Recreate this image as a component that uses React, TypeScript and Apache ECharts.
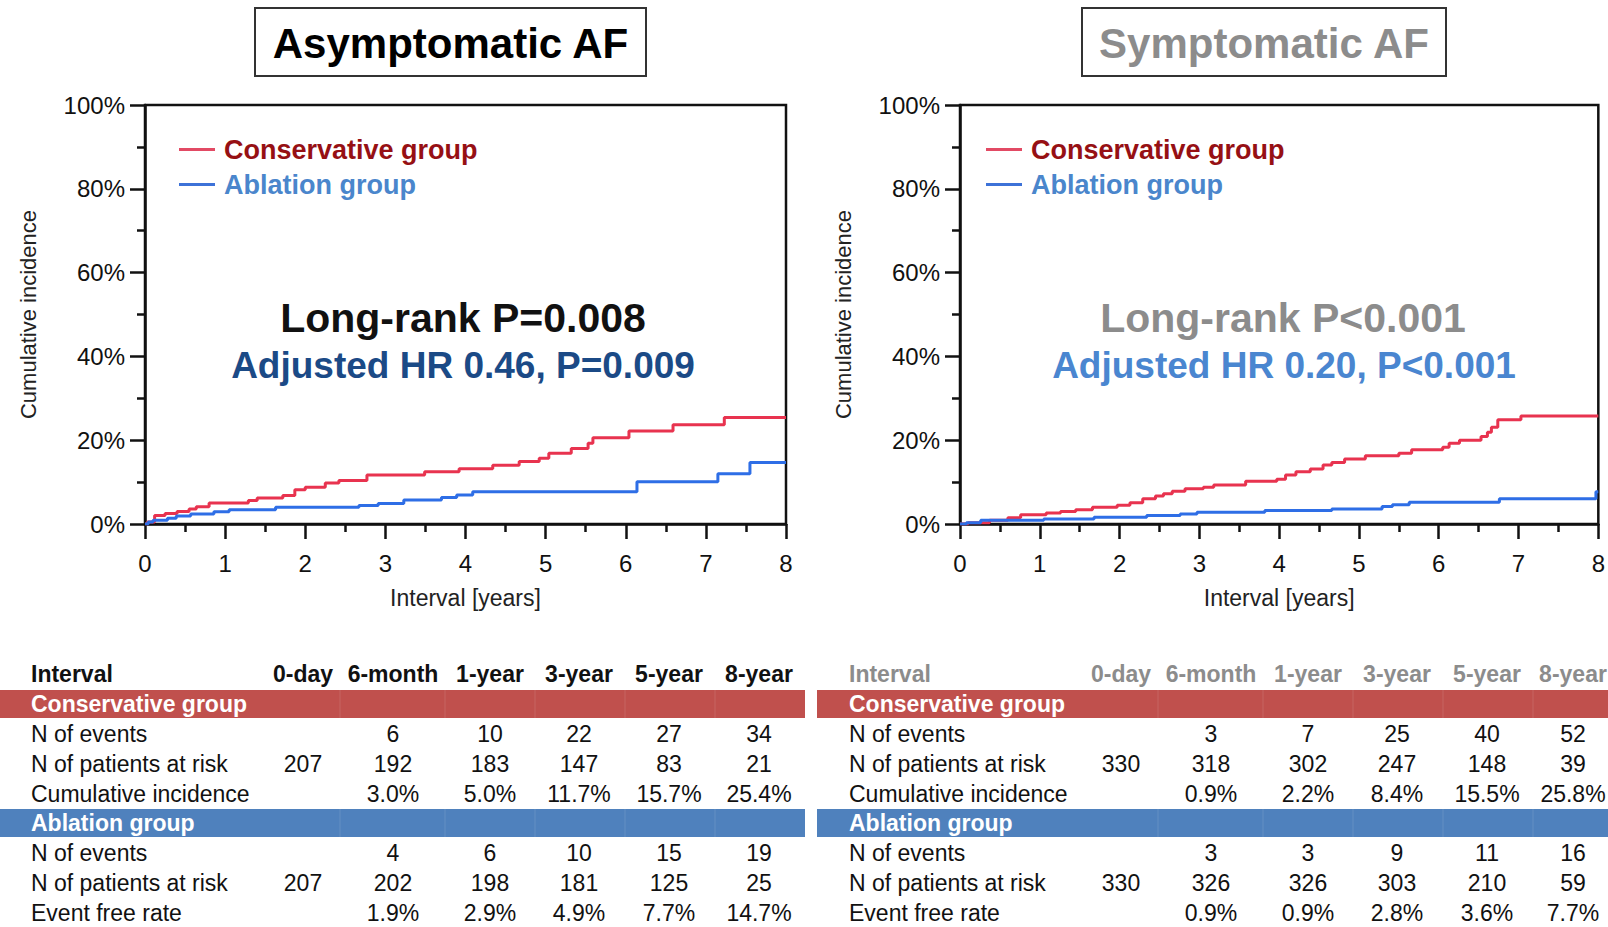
import React, { useEffect, useRef } from "react";
import * as echarts from "echarts";

const FONT = "'Liberation Sans', Arial, Helvetica, sans-serif";

// Kaplan-Meier style cumulative incidence (years, %)
const asymConsT = [0, 0.03, 0.12, 0.25, 0.4, 0.55, 0.64, 0.8, 1.29, 1.4, 1.72, 1.87, 2.0, 2.25, 2.42, 2.77, 3.49, 3.92, 4.34, 4.67, 4.92, 5.04, 5.32, 5.53, 5.59, 6.04, 6.59, 7.23, 8.0];
const asymConsV = [0, 0.5, 2.0, 2.5, 3.0, 3.6, 4.1, 5.0, 5.6, 6.2, 6.8, 8.2, 8.8, 9.8, 10.4, 11.7, 12.5, 13.2, 14.0, 14.9, 15.7, 16.9, 18.0, 19.3, 20.6, 22.2, 23.7, 25.4, 25.4];
const asymAblT = [0, 0.04, 0.1, 0.28, 0.39, 0.57, 0.86, 1.05, 1.63, 2.67, 2.91, 3.23, 3.7, 3.89, 4.09, 6.14, 7.15, 7.55, 8.0];
const asymAblV = [0, 0.5, 0.9, 1.4, 1.9, 2.4, 2.9, 3.4, 4.0, 4.4, 4.9, 5.7, 6.3, 6.9, 7.7, 10.1, 12.0, 14.7, 14.7];
const symConsT = [0, 0.1, 0.37, 0.6, 0.76, 1.08, 1.26, 1.45, 1.66, 1.97, 2.13, 2.29, 2.45, 2.55, 2.66, 2.82, 3.05, 3.18, 3.58, 3.97, 4.08, 4.21, 4.39, 4.55, 4.66, 4.82, 5.08, 5.5, 5.66, 6.05, 6.13, 6.26, 6.53, 6.61, 6.66, 6.74, 7.03, 8.0];
const symConsV = [0, 0.3, 0.9, 1.5, 2.2, 2.6, 3.0, 3.4, 4.0, 4.5, 5.1, 6.0, 6.7, 7.2, 7.8, 8.4, 8.8, 9.3, 10.2, 10.7, 11.7, 12.5, 13.1, 14.1, 14.7, 15.5, 16.3, 16.9, 17.7, 18.3, 19.3, 20.0, 20.9, 21.9, 23.1, 24.9, 25.8, 25.8];
const symAblT = [0, 0.08, 0.26, 1.05, 1.68, 2.34, 2.76, 2.97, 3.82, 4.66, 5.29, 5.42, 5.63, 6.76, 7.97, 8.0];
const symAblV = [0, 0.3, 0.9, 1.2, 1.6, 2.0, 2.4, 2.8, 3.2, 3.6, 4.2, 4.6, 5.2, 6.0, 7.7, 7.7];

// Risk tables
const tableCols = ["0-day", "6-month", "1-year", "3-year", "5-year", "8-year"];
const asymConsEvents = [null, 6, 10, 22, 27, 34];
const asymConsAtRisk = [207, 192, 183, 147, 83, 21];
const asymConsInc = [null, 3.0, 5.0, 11.7, 15.7, 25.4];
const asymAblEvents = [null, 4, 6, 10, 15, 19];
const asymAblAtRisk = [207, 202, 198, 181, 125, 25];
const asymAblRate = [null, 1.9, 2.9, 4.9, 7.7, 14.7];
const symConsEvents = [null, 3, 7, 25, 40, 52];
const symConsAtRisk = [330, 318, 302, 247, 148, 39];
const symConsInc = [null, 0.9, 2.2, 8.4, 15.5, 25.8];
const symAblEvents = [null, 3, 3, 9, 11, 16];
const symAblAtRisk = [330, 326, 326, 303, 210, 59];
const symAblRate = [null, 0.9, 0.9, 2.8, 3.6, 7.7];

const RED = "#e8334f";
const BLUE = "#2e6ee6";

const zip = (t: number[], v: number[]) => t.map((x, i) => [x, v[i]]);

function xAxis(gridIndex: number) {
  return {
    type: "value",
    gridIndex,
    min: 0,
    max: 8,
    interval: 1,
    name: "Interval [years]",
    nameLocation: "middle",
    nameGap: 62,
    nameTextStyle: { fontSize: 23, color: "#222", fontFamily: FONT },
    axisLine: { show: true, onZero: false, lineStyle: { color: "#111", width: 2.5 } },
    axisTick: { show: true, length: 15, lineStyle: { color: "#111", width: 2.5 } },
    minorTick: { show: true, splitNumber: 2, length: 8, lineStyle: { color: "#111", width: 2.5 } },
    axisLabel: { fontSize: 24, color: "#111", margin: 27, fontFamily: FONT },
    splitLine: { show: false },
  };
}

function yAxis(gridIndex: number) {
  return {
    type: "value",
    gridIndex,
    min: 0,
    max: 100,
    interval: 20,
    name: "Cumulative incidence",
    nameLocation: "middle",
    nameRotate: 90,
    nameGap: 106,
    nameTextStyle: { fontSize: 22, color: "#222", fontFamily: FONT },
    axisLine: { show: true, onZero: false, lineStyle: { color: "#111", width: 2.5 } },
    axisTick: { show: true, length: 15, lineStyle: { color: "#111", width: 2.5 } },
    minorTick: { show: true, splitNumber: 2, length: 8, lineStyle: { color: "#111", width: 2.5 } },
    axisLabel: { fontSize: 24, color: "#111", margin: 20, fontFamily: FONT, formatter: "{value}%" },
    splitLine: { show: false },
  };
}

function kmSeries(name: string, idx: number, data: number[][], color: string) {
  return {
    type: "line",
    name,
    xAxisIndex: idx,
    yAxisIndex: idx,
    step: "end",
    data,
    symbol: "none",
    showSymbol: false,
    color,
    lineStyle: { color, width: 3 },
    z: 3,
  };
}

function legend(left: number) {
  return {
    orient: "vertical",
    left,
    top: 136,
    padding: 0,
    itemWidth: 36,
    itemHeight: 3,
    itemGap: 8,
    icon: "rect",
    selectedMode: false,
    textStyle: { fontSize: 27, fontWeight: "bold", fontFamily: FONT, padding: [0, 0, 0, 4] },
    data: [
      { name: "Conservative group", itemStyle: { color: "#e24a64" }, textStyle: { color: "#961014" } },
      { name: "Ablation group", itemStyle: { color: "#3d72d8" }, textStyle: { color: "#4a86cc" } },
    ],
  };
}

const fmtPct = (v: number | null) => (v == null ? "" : v.toFixed(1) + "%");
const fmtNum = (v: number | null) => (v == null ? "" : String(v));

function txt(x: number, y: number, text: string, size: number, color: string, bold: boolean, align = "left") {
  return {
    type: "text",
    x,
    y,
    silent: true,
    style: {
      text,
      fill: color,
      fontSize: size,
      fontWeight: bold ? "bold" : "normal",
      fontFamily: FONT,
      align,
      verticalAlign: "middle",
    },
  };
}

function riskTable(
  colX: number[],
  labelX: number,
  bandLeft: number,
  bandRight: number,
  dividers: number[],
  headColor: string,
  cons: (number | null)[][],
  abl: (number | null)[][]
) {
  const els: any[] = [];
  els.push(txt(labelX, 674, "Interval", 23, headColor, true));
  tableCols.forEach((c, i) => els.push(txt(colX[i], 674, c, 23, headColor, true, "center")));
  const band = (y: number, color: string, label: string) => {
    els.push({ type: "rect", silent: true, shape: { x: bandLeft, y, width: bandRight - bandLeft, height: 28 }, style: { fill: color } });
    dividers.forEach((d) =>
      els.push({ type: "line", silent: true, shape: { x1: d, y1: y, x2: d, y2: y + 28 }, style: { stroke: "rgba(255,255,255,0.12)", lineWidth: 1 } })
    );
    els.push(txt(labelX, y + 14, label, 23, "#ffffff", true));
  };
  const rows = (ys: number[], labels: string[], vals: (number | null)[][]) => {
    ys.forEach((y, r) => {
      els.push(txt(labelX, y, labels[r], 23, "#111", false));
      vals[r].forEach((v, i) => els.push(txt(colX[i], y, r === 2 ? fmtPct(v) : fmtNum(v), 23, "#111", false, "center")));
    });
  };
  band(690, "#c0504d", "Conservative group");
  rows([734, 764, 794], ["N of events", "N of patients at risk", "Cumulative incidence"], cons);
  band(809, "#4f81bd", "Ablation group");
  rows([853, 883, 913], ["N of events", "N of patients at risk", "Event free rate"], abl);
  return els;
}

function buildOption() {
  const graphic: any[] = [
    { type: "rect", silent: true, shape: { x: 255, y: 8, width: 391, height: 68 }, style: { fill: "#fff", stroke: "#333", lineWidth: 2 } },
    txt(450.5, 43, "Asymptomatic AF", 42, "#000", true, "center"),
    { type: "rect", silent: true, shape: { x: 1082, y: 8, width: 364, height: 68 }, style: { fill: "#fff", stroke: "#333", lineWidth: 2 } },
    txt(1264, 43, "Symptomatic AF", 42, "#8c8c8c", true, "center"),
    txt(463, 318, "Long-rank P=0.008", 41, "#111", true, "center"),
    txt(463, 365, "Adjusted HR 0.46, P=0.009", 37, "#1b4a86", true, "center"),
    txt(1283, 318, "Long-rank P<0.001", 41, "#8c8c8c", true, "center"),
    txt(1284, 365, "Adjusted HR 0.20, P<0.001", 37, "#4a86d0", true, "center"),
    ...riskTable(
      [303, 393, 490, 579, 669, 759],
      31,
      0,
      805,
      [340, 445, 535, 625, 715],
      "#111",
      [asymConsEvents, asymConsAtRisk, asymConsInc],
      [asymAblEvents, asymAblAtRisk, asymAblRate]
    ),
    ...riskTable(
      [1121, 1211, 1308, 1397, 1487, 1573],
      849,
      817,
      1608,
      [1158, 1263, 1353, 1443, 1533],
      "#8c8c8c",
      [symConsEvents, symConsAtRisk, symConsInc],
      [symAblEvents, symAblAtRisk, symAblRate]
    ),
  ];

  return {
    animation: false,
    backgroundColor: "#ffffff",
    textStyle: { fontFamily: FONT },
    grid: [
      { left: 145, top: 105, width: 641, height: 419, show: true, borderColor: "#111", borderWidth: 2.5, backgroundColor: "transparent" },
      { left: 960, top: 105, width: 640, height: 419, show: true, borderColor: "#111", borderWidth: 2.5, backgroundColor: "transparent" },
    ],
    xAxis: [xAxis(0), xAxis(1)],
    yAxis: [yAxis(0), yAxis(1)],
    legend: [legend(179), legend(986)],
    series: [
      kmSeries("Conservative group", 0, zip(asymConsT, asymConsV), RED),
      kmSeries("Ablation group", 0, zip(asymAblT, asymAblV), BLUE),
      kmSeries("Conservative group", 1, zip(symConsT, symConsV), RED),
      kmSeries("Ablation group", 1, zip(symAblT, symAblV), BLUE),
    ],
    graphic,
  };
}

export default function App() {
  const ref = useRef<HTMLDivElement>(null);
  useEffect(() => {
    if (!ref.current) return;
    const chart = echarts.init(ref.current, null, { renderer: "svg" });
    chart.setOption(buildOption() as any);
    return () => chart.dispose();
  }, []);
  return (
    <div
      ref={ref}
      style={{ position: "fixed", left: 0, top: 0, width: "1608px", height: "927px", background: "#fff" }}
    />
  );
}
